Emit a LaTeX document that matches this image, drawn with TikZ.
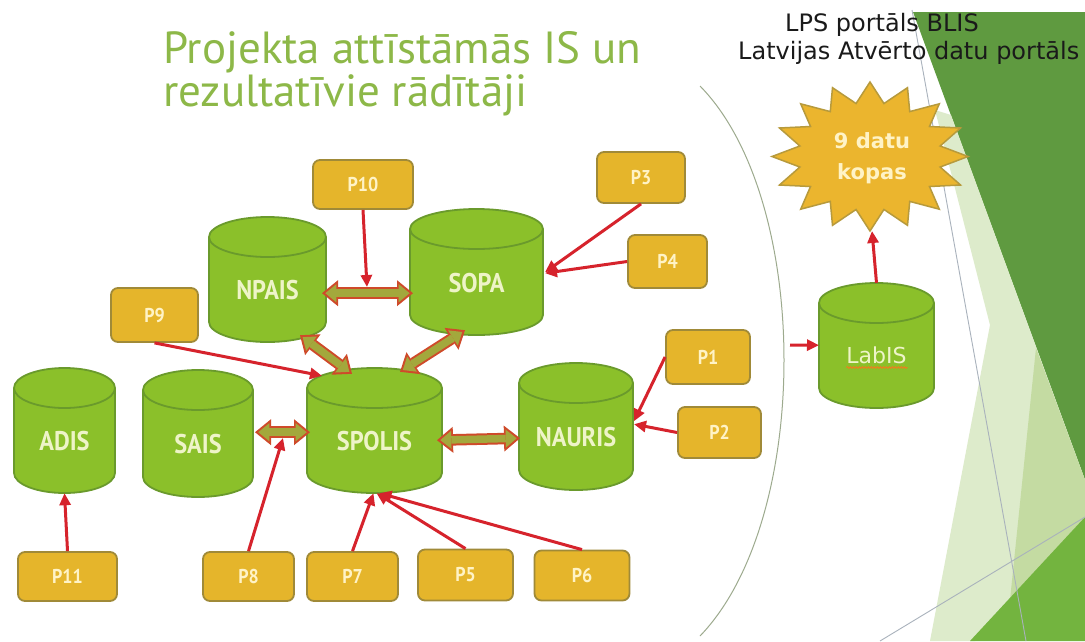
\documentclass[tikz,border=0pt]{standalone}
\usepackage{fontspec}
\setmainfont{PT Sans}
\newfontfamily\dvs{DejaVu Sans}
\newfontfamily\lblfont[FakeStretch=0.9]{PT Sans}
\usetikzlibrary{arrows.meta,decorations.pathmorphing}
\definecolor{titleg}{HTML}{8DB848}
\definecolor{cylfill}{HTML}{8BC02A}
\definecolor{cylline}{HTML}{6A9A2C}
\definecolor{cyltext}{HTML}{EEF4C8}
\definecolor{boxfill}{HTML}{E5B52B}
\definecolor{boxline}{HTML}{A08A38}
\definecolor{boxtext}{HTML}{FFF3C6}
\definecolor{redc}{HTML}{D6232C}
\definecolor{blkred}{HTML}{CF4A2A}
\definecolor{blkfill}{HTML}{A3A83C}
\definecolor{starfill}{HTML}{EBB52E}
\definecolor{starline}{HTML}{B79A3C}
\definecolor{darkg}{HTML}{5F9A40}
\definecolor{paleg}{HTML}{DDEBCB}
\definecolor{midg}{HTML}{C4DBA2}
\definecolor{brightg}{HTML}{73B43F}
\definecolor{greyline}{HTML}{A9B2BC}
\definecolor{arcc}{HTML}{9DAA8E}
\definecolor{lpstext}{HTML}{1A1A1A}
\begin{document}
\begin{tikzpicture}[x=1pt,y=-1pt,
  cylbody/.style={fill=cylfill, draw=cylline, line width=1.8pt},
  cyllab/.style={inner sep=0pt, text=cyltext, font=\lblfont\bfseries\fontsize{27}{30}\selectfont,
    text height=40pt, text depth=0pt},
  pbox/.style={rectangle, rounded corners=7pt, draw=boxline, line width=1.8pt, fill=boxfill,
    text=boxtext, font=\lblfont\bfseries\fontsize{20}{22}\selectfont, inner sep=0pt},
  titletext/.style={anchor=base west, inner sep=0pt, text=titleg, font=\fontsize{45}{50}\selectfont},
  lpsline/.style={anchor=base west, inner sep=0pt, text=lpstext, font=\dvs\fontsize{24}{28}\selectfont},
  redarr/.style={draw=redc, line width=3pt, -{Triangle[length=12pt,width=11pt]}},
  blockout/.style={draw=blkred, line width=11.5pt,
    {Triangle[length=16pt,width=26pt,line width=0pt]}-{Triangle[length=16pt,width=26pt,line width=0pt]}},
  blockin/.style={draw=blkfill, line width=7.5pt, shorten <=3.3pt, shorten >=3.3pt,
    {Triangle[length=11pt,width=18pt,line width=0pt]}-{Triangle[length=11pt,width=18pt,line width=0pt]}},
  grey/.style={draw=greyline, line width=0.9pt}
]
\newcommand\dblarrow[2]{\draw[blockout] #1 -- #2; \draw[blockin] #1 -- #2;}
% #1 name, #2 centre x, #3 top y, #4 bottom y, #5 width, #6 label, #7 extra label options
\newcommand\dbcyl[7]{%
  \pgfmathsetmacro\cylxl{#2-#5/2}\pgfmathsetmacro\cylxr{#2+#5/2}%
  \pgfmathsetmacro\cylyt{#3+20}\pgfmathsetmacro\cylyb{#4-20}%
  \pgfmathsetmacro\cylym{(#3+#4)/2}\pgfmathsetmacro\cylhh{#4-#3}%
  \filldraw[cylbody] (#2,\cylyb) ellipse[x radius={#5*0.5pt}, y radius=20pt];
  \fill[cylfill] (\cylxl,\cylyt) rectangle (\cylxr,\cylyb);
  \draw[cylbody, fill=none] (\cylxl,\cylyt) -- (\cylxl,\cylyb) (\cylxr,\cylyt) -- (\cylxr,\cylyb);
  \filldraw[cylbody] (#2,\cylyt) ellipse[x radius={#5*0.5pt}, y radius=20pt];
  \node[cyllab, minimum width=#5pt, minimum height=\cylhh pt, #7] (#1) at (#2,\cylym) {#6};
}
\useasboundingbox (0,0) rectangle (1085,641);
\fill[white] (0,0) rectangle (1085,641);
% right decoration
\fill[darkg] (913,12) -- (1085,12) -- (1085,480) -- cycle;
\fill[paleg] (935,110) -- (990,325) -- (930,641) -- (975,641) -- (1085,517) -- (1085,480) -- (951,115) -- cycle;
\fill[midg] (1036,348) -- (1085,480) -- (1085,517) -- (1010,600) -- cycle;
\fill[brightg] (1085,517) -- (1085,641) -- (970,641) -- cycle;
\draw[grey] (912,10) -- (1026,641);
\draw[grey] (880,641) -- (1085,517);
% bracket arc
\draw[arcc, line width=1pt] (700,86) .. controls (812,200) and (812,520) .. (700,636);
% titles
\node[titletext] (t1) at (163,63) {Projekta attīstāmās IS un};
\node[titletext] (t2) at (163,106) {rezultatīvie rādītāji};
\node[lpsline] (l1) at (785,31) {LPS portāls BLIS};
\node[lpsline] (l2) at (738,59) {Latvijas Atvērto datu portāls};
% star
\draw[fill=starfill, draw=starline, line width=1.5pt] (870,82)
  \foreach \i in {1,...,31} { -- ({870+ifthenelse(mod(\i,2)==0,98,71.5)*cos(90+11.25*\i)},
                                 {156.5-ifthenelse(mod(\i,2)==0,74.5,54)*sin(90+11.25*\i)}) } -- cycle;
\node[align=center, text=boxtext, font=\dvs\bfseries\fontsize{21}{31}\selectfont, inner sep=0pt] (kopas) at (872,158) {9 datu\\kopas};
\coordinate (starb) at (872,231);
% cylinders
\dbcyl{npais}{267.5}{217}{342}{117}{NPAIS}{}
\dbcyl{sopa}{476.5}{209}{335}{133}{SOPA}{}
\dbcyl{adis}{64.5}{368}{493}{101}{ADIS}{}
\dbcyl{sais}{198}{370}{497}{110}{SAIS}{}
\dbcyl{spolis}{374.5}{368}{493}{135}{SPOLIS}{}
\dbcyl{nauris}{576}{363}{490}{114}{NAURIS}{}
\dbcyl{labis}{876.5}{283}{408}{115}{LabIS}{font=\dvs\fontsize{22}{26}\selectfont, text height=35pt}
\draw[decorate, decoration={snake, amplitude=0.9pt, segment length=3pt}, draw=boxfill!70!red, line width=0.9pt]
  ([xshift=-30pt,yshift=-22pt]labis.center) -- ([xshift=31pt,yshift=-22pt]labis.center);
% P boxes
\node[pbox, minimum width=100pt, minimum height=49pt] (p10) at (363,184.5) {P10};
\node[pbox, minimum width=88pt, minimum height=51pt] (p3) at (641,177.5) {P3};
\node[pbox, minimum width=79pt, minimum height=53pt] (p4) at (667.5,261.5) {P4};
\node[pbox, minimum width=87pt, minimum height=54pt] (p9) at (154.5,315) {P9};
\node[pbox, minimum width=84pt, minimum height=54pt] (p1) at (708,357) {P1};
\node[pbox, minimum width=83pt, minimum height=51pt] (p2) at (719.5,432.5) {P2};
\node[pbox, minimum width=99pt, minimum height=49pt] (p11) at (67.5,576.5) {P11};
\node[pbox, minimum width=91pt, minimum height=49pt] (p8) at (248.5,576.5) {P8};
\node[pbox, minimum width=91pt, minimum height=49pt] (p7) at (352.5,576.5) {P7};
\node[pbox, minimum width=95pt, minimum height=51pt] (p5) at (465.5,575) {P5};
\node[pbox, minimum width=95pt, minimum height=50pt] (p6) at (582,575.5) {P6};
% block double arrows
\dblarrow{([xshift=54.5pt,yshift=49pt]npais.south)}{([xshift=-63.5pt,yshift=42pt]sopa.south)}
\dblarrow{([xshift=32.5pt,yshift=7pt]npais.south)}{([xshift=-22.5pt,yshift=-6pt]spolis.north)}
\dblarrow{([xshift=-11.5pt,yshift=5pt]sopa.south)}{([xshift=25.5pt,yshift=-4pt]spolis.north)}
\dblarrow{([xshift=57pt,yshift=65pt]sais.south)}{([xshift=-64.5pt,yshift=61pt]spolis.south)}
\dblarrow{([xshift=62.5pt,yshift=53pt]spolis.south)}{([xshift=-56pt,yshift=52pt]nauris.south)}
\coordinate (mid1) at (367,287);
\coordinate (mid4) at (283,438);
\coordinate (labin) at (790,345);
% thin red arrows
\draw[redarr] (p10.south) -- (mid1);
\draw[redarr] (p3.south) -- ([xshift=68.5pt,yshift=63pt]sopa.south);
\draw[redarr] (p4.west) -- ([xshift=68.5pt,yshift=62pt]sopa.south);
\draw[redarr] (p9.south) -- ([xshift=-52.5pt,yshift=-8pt]spolis.north);
\draw[redarr] (p1.west) -- ([xshift=58pt,yshift=69pt]nauris.south);
\draw[redarr] (p2.west) -- ([xshift=58pt,yshift=66pt]nauris.south);
\draw[redarr] (p11.north) -- (adis.south);
\draw[redarr] (p8.north) -- (mid4);
\draw[redarr] (p7.north) -- ([xshift=-1pt]spolis.south);
\draw[redarr] (p5.north) -- ([xshift=2pt]spolis.south);
\draw[redarr] (p6.north) -- ([xshift=5pt]spolis.south);
\draw[redarr] (labin) -- ([xshift=-57.5pt,yshift=63pt]labis.south);
\draw[redarr] (labis.north) -- (starb);
\end{tikzpicture}
\end{document}
